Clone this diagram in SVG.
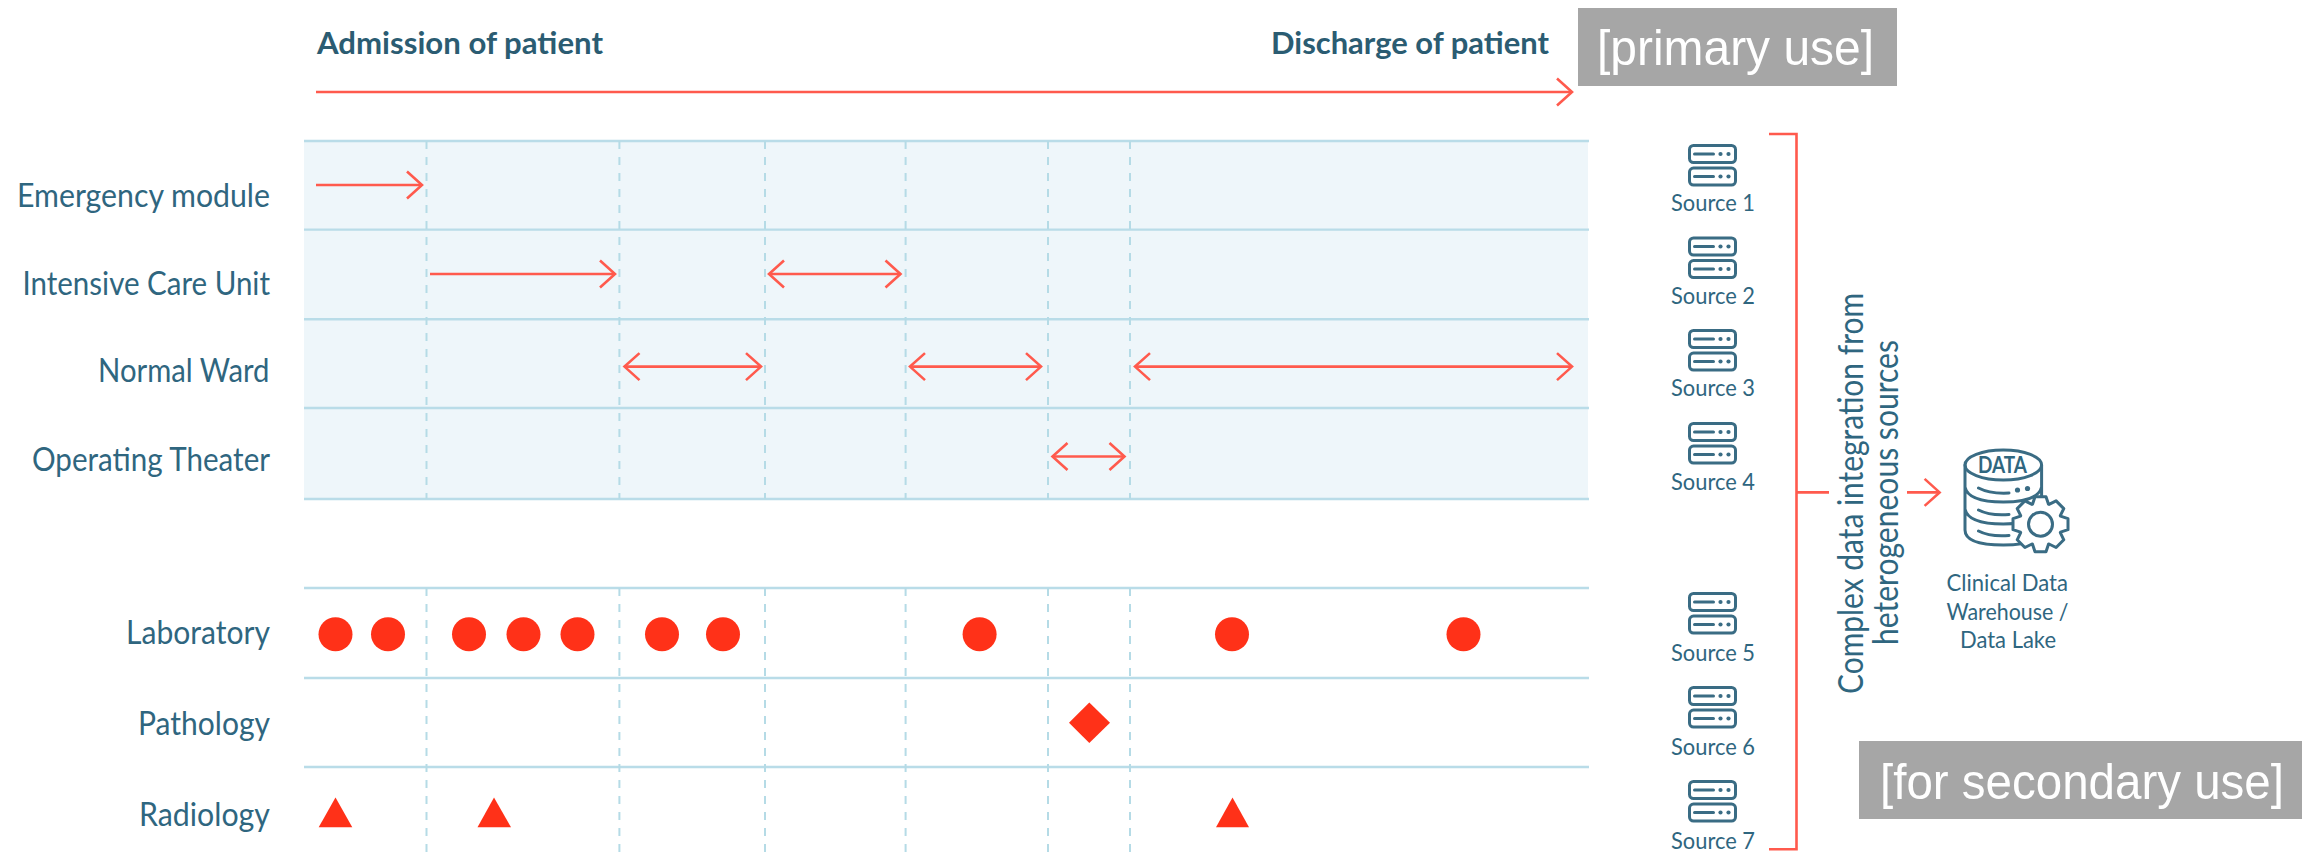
<svg xmlns="http://www.w3.org/2000/svg" xmlns:xlink="http://www.w3.org/1999/xlink" width="2302" height="854" viewBox="0 0 2302 854">
<style>
text{font-family:"Lato","Noto Sans","Liberation Sans",sans-serif;fill:#2f667f}
.lab{font-size:33px;text-anchor:start}
.head{font-size:31px;font-weight:700;fill:#2b5c72}
.src{font-size:24px}
.rot{font-size:34px}
.tag{font-family:"Liberation Sans",Arial,sans-serif;font-size:50px;fill:#fff}
.hl{stroke:#b9dce8;stroke-width:2.4;fill:none}
.dl{stroke:#b5dbe6;stroke-width:2;stroke-dasharray:8 8;fill:none}
.ar{stroke:#ff5a4d;stroke-width:2.6;fill:none}
.mk{fill:#ff3118}
.ic{fill:none;stroke:#3a6c84;stroke-width:3;stroke-linecap:round}
.icd{fill:#3a6c84}
</style>
<defs>
<marker id="ah" viewBox="-17 -15 20 30" refX="0" refY="0" markerWidth="20" markerHeight="30" markerUnits="userSpaceOnUse" orient="auto-start-reverse"><path d="M-15-13.5L0 0L-15 13.5" fill="none" stroke="#ff5a4d" stroke-width="2.6"/></marker>
<g id="srv">
<rect x="1" y="1" width="46" height="17" rx="4" class="ic"/>
<rect x="1" y="23.6" width="46" height="17" rx="4" class="ic"/>
<path d="M6 9.5H25M6 32H25" class="ic"/>
<circle cx="32" cy="9.5" r="2.1" class="icd"/><circle cx="40" cy="9.5" r="2.1" class="icd"/>
<circle cx="32" cy="32" r="2.1" class="icd"/><circle cx="40" cy="32" r="2.1" class="icd"/>
</g>
</defs>
<rect width="2302" height="854" fill="#fff"/>
<g id="grid">
<rect x="304" y="141" width="1284" height="358" fill="#eef6fa"/>
<path class="hl" d="M304 141H1589M304 229.6H1589M304 319.3H1589M304 408H1589M304 499H1589M304 588H1589M304 678H1589M304 767H1589"/>
<path class="dl" d="M426.5 141V499M619.4 141V499M765 141V499M905.6 141V499M1048 141V499M1130 141V499M426.5 588V854M619.4 588V854M765 588V854M905.6 588V854M1048 588V854M1130 588V854"/>
</g>
<g id="connectors">
<path class="ar" marker-end="url(#ah)" d="M316 92H1572"/>
<path class="ar" marker-end="url(#ah)" d="M316 185H422"/>
<path class="ar" marker-end="url(#ah)" d="M430 274H615"/>
<path class="ar" marker-start="url(#ah)" marker-end="url(#ah)" d="M769 274H900.5"/>
<path class="ar" marker-start="url(#ah)" marker-end="url(#ah)" d="M624.5 366.6H761"/>
<path class="ar" marker-start="url(#ah)" marker-end="url(#ah)" d="M910 366.6H1041"/>
<path class="ar" marker-start="url(#ah)" marker-end="url(#ah)" d="M1135 366.6H1572"/>
<path class="ar" marker-start="url(#ah)" marker-end="url(#ah)" d="M1052.5 456.5H1124.5"/>
<path class="ar" d="M1769 134H1796.5V849.3H1769M1796.5 492.4H1829"/>
<path class="ar" marker-end="url(#ah)" d="M1907 492.4H1939.6"/>
</g>
<g id="timeline-labels">
<text class="head" x="317" y="54" textLength="286" lengthAdjust="spacingAndGlyphs">Admission of patient</text>
<text class="head" x="1271" y="54" textLength="278" lengthAdjust="spacingAndGlyphs">Discharge of patient</text>
</g>
<g id="row-labels">
<text class="lab" x="17" y="207" textLength="253" lengthAdjust="spacingAndGlyphs">Emergency module</text>
<text class="lab" x="22.5" y="294.5" textLength="247.5" lengthAdjust="spacingAndGlyphs">Intensive Care Unit</text>
<text class="lab" x="98" y="382" textLength="171.5" lengthAdjust="spacingAndGlyphs">Normal Ward</text>
<text class="lab" x="32" y="471" textLength="238" lengthAdjust="spacingAndGlyphs">Operating Theater</text>
<text class="lab" x="126" y="643.5" textLength="144" lengthAdjust="spacingAndGlyphs">Laboratory</text>
<text class="lab" x="138" y="734.5" textLength="132" lengthAdjust="spacingAndGlyphs">Pathology</text>
<text class="lab" x="139" y="825.5" textLength="131" lengthAdjust="spacingAndGlyphs">Radiology</text>
</g>
<g id="markers" class="mk">
<circle cx="335.5" cy="634.3" r="17"/><circle cx="388" cy="634.3" r="17"/><circle cx="469" cy="634.3" r="17"/><circle cx="523.5" cy="634.3" r="17"/><circle cx="577.5" cy="634.3" r="17"/><circle cx="662" cy="634.3" r="17"/><circle cx="723" cy="634.3" r="17"/><circle cx="979.6" cy="634.3" r="17"/><circle cx="1232" cy="634.3" r="17"/><circle cx="1463.5" cy="634.3" r="17"/>
<polygon points="1089.3,702.5 1110,722.8 1089.3,743 1069,722.8"/>
<polygon points="335.5,797.5 352.3,827.3 318.7,827.3"/>
<polygon points="494,797.5 511,827.3 477.5,827.3"/>
<polygon points="1232.5,797.5 1249,827.3 1216,827.3"/>
</g>
<g id="source-1"><use xlink:href="#srv" href="#srv" x="1688.5" y="144.5"/><text class="src" x="1671" y="211" textLength="84" lengthAdjust="spacingAndGlyphs">Source 1</text></g>
<g id="source-2"><use xlink:href="#srv" href="#srv" x="1688.5" y="237"/><text class="src" x="1671" y="303.5" textLength="84" lengthAdjust="spacingAndGlyphs">Source 2</text></g>
<g id="source-3"><use xlink:href="#srv" href="#srv" x="1688.5" y="329.5"/><text class="src" x="1671" y="396" textLength="84" lengthAdjust="spacingAndGlyphs">Source 3</text></g>
<g id="source-4"><use xlink:href="#srv" href="#srv" x="1688.5" y="422.5"/><text class="src" x="1671" y="489.5" textLength="84" lengthAdjust="spacingAndGlyphs">Source 4</text></g>
<g id="source-5"><use xlink:href="#srv" href="#srv" x="1688.5" y="592.5"/><text class="src" x="1671" y="660.5" textLength="84" lengthAdjust="spacingAndGlyphs">Source 5</text></g>
<g id="source-6"><use xlink:href="#srv" href="#srv" x="1688.5" y="686.5"/><text class="src" x="1671" y="754.5" textLength="84" lengthAdjust="spacingAndGlyphs">Source 6</text></g>
<g id="source-7"><use xlink:href="#srv" href="#srv" x="1688.5" y="780.5"/><text class="src" x="1671" y="848.5" textLength="84" lengthAdjust="spacingAndGlyphs">Source 7</text></g>
<g id="integration-label">
<text class="rot" transform="translate(1862.5 694) rotate(-90)" textLength="401" lengthAdjust="spacingAndGlyphs">Complex data integration from</text>
<text class="rot" transform="translate(1898 645) rotate(-90)" textLength="305" lengthAdjust="spacingAndGlyphs">heterogeneous sources</text>
</g>
<g id="data-warehouse">
<ellipse cx="2003.3" cy="465" rx="38.3" ry="15" class="ic"/>
<path class="ic" d="M1965 465V530Q1965 545 2003.3 545Q2041.6 545 2041.6 530V465M1965 487Q1968 502 2003.3 502Q2038 502 2041.6 487M1965 509Q1968 524 2003.3 524Q2025 524 2035 517"/>
<path class="ic" d="M1978.5 488Q1990 494 2009 493M1978.5 510Q1990 516 2009 514.5M1978.5 531Q1990 537 2009 535.5"/>
<circle cx="2017.5" cy="490" r="2.6" class="icd"/><circle cx="2027.5" cy="488.5" r="2.6" class="icd"/>
<g transform="translate(2040.5 524.2)">
<path class="ic" style="fill:#fff;stroke-linejoin:round" d="M-8-20L-5.5-27.5H5.5L8-20L8.5-19.8L15.6-23.3L23.3-15.6L19.8-8.5L20-8L27.5-5.5V5.5L20 8L19.8 8.5L23.3 15.6L15.6 23.3L8.5 19.8L8 20L5.5 27.5H-5.5L-8 20L-8.5 19.8L-15.6 23.3L-23.3 15.6L-19.8 8.5L-20 8L-27.5 5.5V-5.5L-20-8L-19.8-8.5L-23.3-15.6L-15.6-23.3L-8.5-19.8Z"/>
<circle r="12" class="ic"/>
</g>
<text x="1978" y="473" font-size="23" font-weight="700" textLength="49" lengthAdjust="spacingAndGlyphs">DATA</text>
<text class="src" x="1946.5" y="591" textLength="121.5" lengthAdjust="spacingAndGlyphs">Clinical Data</text>
<text class="src" x="1946.5" y="619.5" textLength="122" lengthAdjust="spacingAndGlyphs">Warehouse /</text>
<text class="src" x="1960" y="647.5" textLength="96" lengthAdjust="spacingAndGlyphs">Data Lake</text>
</g>
<g id="tag-primary"><rect x="1578" y="8" width="319" height="78" fill="#a6a6a6"/><text class="tag" x="1597" y="65" textLength="277" lengthAdjust="spacingAndGlyphs">[primary use]</text></g>
<g id="tag-secondary"><rect x="1859" y="741" width="443" height="78" fill="#a6a6a6"/><text class="tag" x="1880" y="799" textLength="404" lengthAdjust="spacingAndGlyphs">[for secondary use]</text></g>
</svg>
